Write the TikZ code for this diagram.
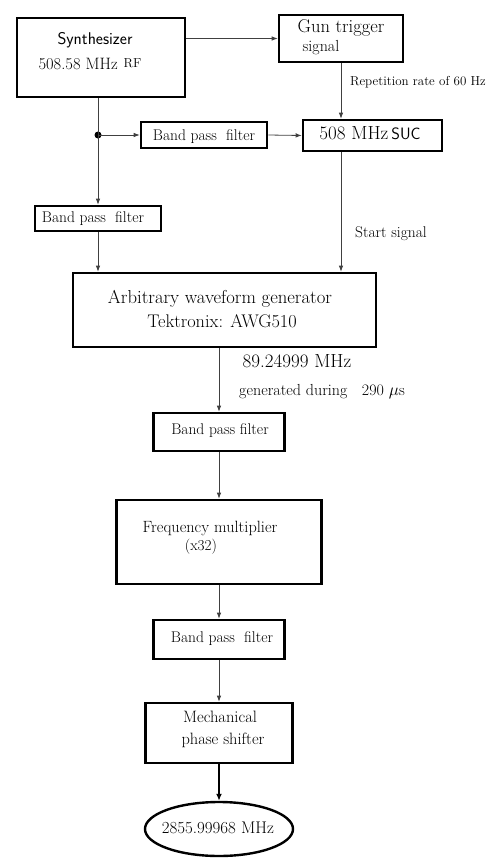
\documentclass[tikz,border=0pt]{standalone}
\usetikzlibrary{arrows.meta,shapes.geometric,calc}
\newcommand\fsz[1]{\fontsize{#1}{#1}\selectfont}
\begin{document}
\begin{tikzpicture}[x=1pt,y=-1pt,
  blk/.style={draw,line width=2.6pt,inner sep=0pt},
  conn/.style={draw=black!75,line width=0.8pt,-{Latex[length=6pt,width=4.5pt]}},
  plain/.style={draw=black!75,line width=0.8pt},
  txt/.style={inner sep=0pt,anchor=base}]
\useasboundingbox (0,0) rectangle (491,859);
% boxes
\node[blk,minimum width=168pt,minimum height=79pt] (synth) at (101,57.5) {};
\node[blk,minimum width=124pt,minimum height=47pt] (gun) at (341,38.5) {};
\node[blk,minimum width=139pt,minimum height=31pt] (suc) at (372.5,135.5) {};
\node[blk,minimum width=126pt,minimum height=26pt] (bpfa) at (204,135) {};
\node[blk,minimum width=126pt,minimum height=25pt] (bpfb) at (98,218.5) {};
\node[blk,minimum width=303pt,minimum height=74pt] (awg) at (224.5,310) {};
\node[blk,minimum width=131pt,minimum height=38pt] (bpfc) at (219,432) {};
\node[blk,minimum width=205pt,minimum height=84pt] (fm) at (219,542) {};
\node[blk,minimum width=131pt,minimum height=39pt] (bpfd) at (219,639.5) {};
\node[blk,minimum width=147pt,minimum height=60pt] (mps) at (219,733) {};
\node[draw,line width=2.4pt,ellipse,minimum width=148pt,minimum height=54pt,inner sep=0pt] (out) at (219,829) {};
% texts
\node[txt] (t1) at (95,45) {\sffamily\fsz{17}Synthesizer};
\node[txt] (t2) at (90,70) {\fsz{16.5}508.58 MHz\hspace{6pt}\raisebox{2pt}{\fsz{13}RF}};
\node[txt] (t3) at (341,33) {\fsz{18.5}Gun trigger};
\node[txt] (t4) at (321,52) {\fsz{16}signal};
\node[txt] (t5) at (418,85) {\fsz{13}Repetition rate of 60 Hz};
\node[txt] (t6) at (370,139) {\fsz{19}508 MHz\hspace{3pt}{\sffamily\fsz{16.5}SUC}};
\node[txt] (t7) at (204,140) {\fsz{15.5}Band pass\ \ filter};
\node[txt] (t8) at (93,222) {\fsz{15.5}Band pass\ \ filter};
\node[txt] (t9) at (391,237) {\fsz{15.5}Start signal};
\node[txt] (t10) at (220,303) {\fsz{18.7}Arbitrary waveform generator};
\node[txt] (t11) at (222,327) {\fsz{18.3}Tektronix: AWG510};
\node[txt] (t12) at (297,367) {\fsz{19}89.24999 MHz};
\node[txt] (t13) at (322,395) {\fsz{16}generated during\ \ \ 290 $\mu$s};
\node[txt] (t14) at (220,434) {\fsz{15.5}Band pass filter};
\node[txt] (t15) at (210,532) {\fsz{16.3}Frequency multiplier};
\node[txt] (t16) at (201,550) {\fsz{15.2}(x32)};
\node[txt] (t17) at (222,642) {\fsz{15.5}Band pass\ \ filter};
\node[txt] (t18) at (220,722) {\fsz{16.5}Mechanical};
\node[txt] (t19) at (223,744) {\fsz{16.4}phase shifter};
\node[txt] (t20) at (218,833) {\fsz{16.9}2855.99968 MHz};
% connectors
\coordinate (j) at (98,135);
\fill (j) circle (3.5pt);
\draw[conn] (synth.east |- gun.west) -- (gun.west);
\draw[conn] (gun.south) -- (gun.south |- suc.north);
\draw[plain] (j |- synth.south) -- (j);
\draw[conn] (j) -- (bpfb.north);
\draw[conn] (j) -- (bpfa.west);
\draw[conn] (bpfa.east) -- (suc.west);
\draw[conn] (bpfb.south) -- (bpfb.south |- awg.north);
\draw[conn] (gun.south |- suc.south) -- (gun.south |- awg.north);
\draw[conn] (bpfc.north |- awg.south) -- (bpfc.north);
\draw[conn] (bpfc.south) -- (fm.north);
\draw[conn] (fm.south) -- (bpfd.north);
\draw[conn] (bpfd.south) -- (mps.north);
\draw[conn,draw=black,line width=2pt,-{Latex[length=7pt,width=6pt]}] (mps.south) -- (out.north);
\end{tikzpicture}
\end{document}
